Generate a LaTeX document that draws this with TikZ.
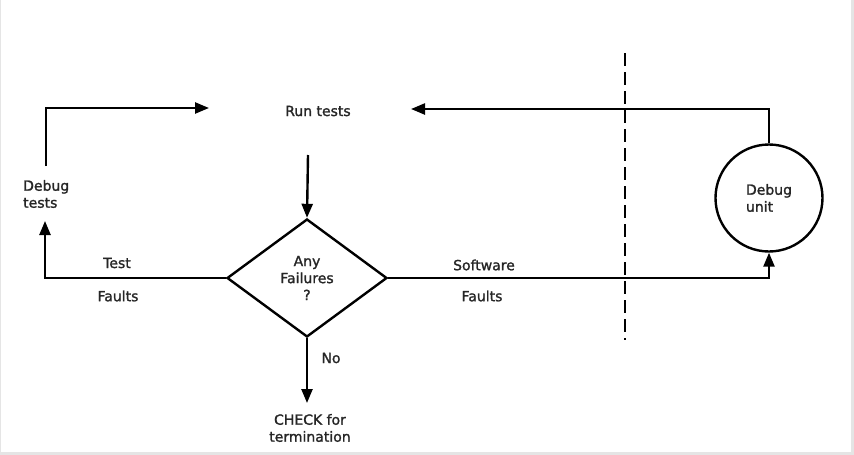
\documentclass[tikz,border=0pt]{standalone}
\usepackage{fontspec}
\setmainfont{DejaVu Sans}
\newfontfamily\lblfont{DejaVu Sans}[FakeBold=1.5]
\usetikzlibrary{arrows.meta,shapes.geometric}
\begin{document}
\begin{tikzpicture}[x=1pt,y=-1pt,
  every node/.style={font=\lblfont\fontsize{14}{17}\selectfont, text=black!85},
  lbl/.style={inner sep=0pt},
  conn/.style={line width=2.4pt, -{Triangle[length=14pt,width=11pt]}},
  sep/.style={line width=2pt, dash pattern=on 13pt off 6pt},
  frame/.style={fill=black!10, draw=none}]
\useasboundingbox (0,0) rectangle (854,455);
\fill[frame] (851,0) rectangle (854,455);
\fill[frame] (0,452) rectangle (854,455);
\fill[frame] (0,0) rectangle (1,455);
% nodes
\node[lbl] (run) at (318,111) {Run tests};
\node[diamond, draw, line width=2.4pt, minimum width=160pt, minimum height=118pt, inner sep=0pt, align=center] (dia) at (307,278) {Any\\Failures\\?};
\node[circle, draw, line width=2.4pt, minimum size=107pt, inner sep=0pt, align=left] (du) at (769,198) {Debug\\unit};
\node[lbl, anchor=west, align=left] (dbgt) at (23,194) {Debug\\tests};
\node[lbl] (tst) at (117,263) {Test};
\node[lbl] (tf) at (118,296) {Faults};
\node[lbl] (sw) at (484,265) {Software};
\node[lbl] (sf) at (482,296) {Faults};
\node[lbl] (no) at (331,358) {No};
\node[lbl, align=center] (chk) at (310,428) {CHECK for\\termination};
% coordinates
\coordinate (runout) at (308,155);
\coordinate (tl) at (45,221);
\coordinate (dt) at (46,166);
\coordinate (rt) at (209,108);
\coordinate (rtr) at (411,109);
\coordinate (chkin) at (307,403);
\coordinate (d1) at (625,53);
\coordinate (d2) at (625,340);
% connectors
\draw[conn] (runout) -- (dia.north);
\draw[conn] (dia.west) -| (tl);
\draw[conn] (dt) |- (rt);
\draw[conn] (dia.east) -| (du.south);
\draw[conn] (du.north) |- (rtr);
\draw[conn] (dia.south) -- (chkin);
\draw[sep] (d1) -- (d2);
\end{tikzpicture}
\end{document}
